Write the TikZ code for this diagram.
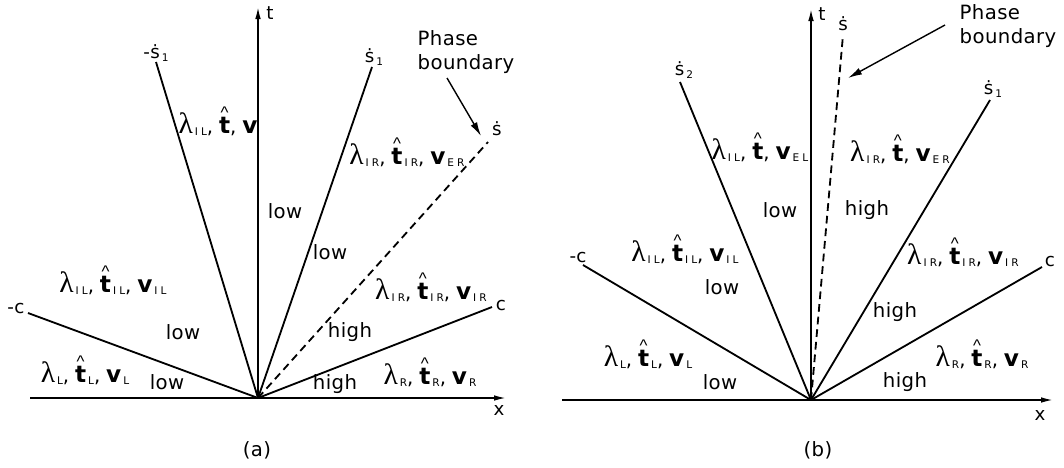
\documentclass[tikz,border=0pt]{standalone}
\usepackage{fontspec}
\setmainfont[LetterSpace=2]{DejaVu Sans}
\newfontfamily\lamfont{Liberation Serif}
\newfontfamily\hatfont{Liberation Sans}
\newfontfamily\subfont[LetterSpace=30]{DejaVu Sans}
\usetikzlibrary{arrows.meta}

\newcommand{\lam}{{\lamfont\fontsize{21}{21}\selectfont λ}}
\newcommand{\sbs}[1]{\hspace{0.1em}\raisebox{-0.25ex}{\subfont\fontsize{7.5}{7.5}\selectfont #1}}
\newcommand{\bt}{\hbox{\ooalign{{\fontsize{16.5}{16.5}\selectfont\bfseries t}\cr
  \hidewidth\raisebox{10.5pt}{\hatfont\fontsize{12}{12}\selectfont\textasciicircum}\hidewidth\cr}}}
\newcommand{\bv}{{\fontsize{16.5}{16.5}\selectfont\bfseries v}}
\newcommand{\cm}{,\hspace{0.3em}}
\newcommand{\ep}[1]{{\fontsize{13}{13}\selectfont #1}}

\begin{document}
\begin{tikzpicture}[x=0.025cm, y=-0.025cm,
  font=\fontsize{14}{17}\selectfont,
  ray/.style={line width=1.3pt},
  axis/.style={line width=1.1pt, -{Latex[length=3mm,width=1.4mm]}},
  pb/.style={ray, dash pattern=on 5.5pt off 3.5pt},
  arr/.style={line width=1pt, -{Latex[length=3.5mm,width=1.8mm]}},
  lbl/.style={inner sep=0pt}
]
\useasboundingbox (0,0) rectangle (1064,467);

% (a)
\coordinate (oa) at (258,398);
\coordinate (xa0) at (30,398);
\coordinate (xa) at (506,398);
\coordinate (ta) at (258,7);
\coordinate (mca) at (28,313);
\coordinate (ms1a) at (156,62);
\coordinate (s1a) at (372,67);
\coordinate (sa) at (488,142);
\coordinate (ca) at (492,307);

\draw[axis] (xa0) -- (xa);
\draw[axis] (oa) -- (ta);
\foreach \e in {mca,ms1a,s1a,ca}
  \draw[ray] (oa) -- (\e);
\draw[pb] (oa) -- (sa);

\node[lbl] (ta-l) at (270,13) {\ep{t}};
\node[lbl] (xa-l) at (499,410) {\ep{x}};
\node[lbl] (mca-l) at (16,309) {\ep{-c}};
\node[lbl] (ca-l) at (501,306) {\ep{c}};
\node[lbl] (ms1a-l) at (156,53) {\ep{-ṡ}\sbs{1}};
\node[lbl] (s1a-l) at (374,57) {\ep{ṡ}\sbs{1}};
\node[lbl] (sa-l) at (497,129) {\ep{ṡ}};

\node[lbl, align=left] (pba) at (466,52) {Phase\\boundary};
\coordinate (pba-from) at (447,78);
\coordinate (pba-to) at (481,136);
\draw[arr] (pba-from) -- (pba-to);

\node[lbl] (a1) at (218,124) {\lam\sbs{IL}\cm\bt\cm\bv};
\node[lbl] (a2) at (407,155) {\lam\sbs{IR}\cm\bt\sbs{IR}\cm\bv\sbs{ER}};
\node[lbl] (a3) at (113,283) {\lam\sbs{IL}\cm\bt\sbs{IL}\cm\bv\sbs{IL}};
\node[lbl] (a4) at (431,290) {\lam\sbs{IR}\cm\bt\sbs{IR}\cm\bv\sbs{IR}};
\node[lbl] (a5) at (85,373) {\lam\sbs{L}\cm\bt\sbs{L}\cm\bv\sbs{L}};
\node[lbl] (a6) at (430,375) {\lam\sbs{R}\cm\bt\sbs{R}\cm\bv\sbs{R}};
\node[lbl] (a7) at (285,211) {low};
\node[lbl] (a8) at (330,252) {low};
\node[lbl] (a9) at (183,332) {low};
\node[lbl] (a10) at (167,382) {low};
\node[lbl] (a11) at (350,332) {high};
\node[lbl] (a12) at (335,384) {high};
\node[lbl] (cap-a) at (257,450) {(a)};

% (b)
\coordinate (ob) at (811,400);
\coordinate (xb0) at (562,400);
\coordinate (xb) at (1053,400);
\coordinate (tb) at (811,9);
\coordinate (mcb) at (583,265);
\coordinate (s2b) at (680,82);
\coordinate (sb) at (843,35);
\coordinate (s1b) at (990,100);
\coordinate (cb) at (1042,267);

\draw[axis] (xb0) -- (xb);
\draw[axis] (ob) -- (tb);
\foreach \e in {mcb,s2b,s1b,cb}
  \draw[ray] (ob) -- (\e);
\draw[pb] (ob) -- (sb);

\node[lbl] (tb-l) at (822,14) {\ep{t}};
\node[lbl] (xb-l) at (1040,415) {\ep{x}};
\node[lbl] (mcb-l) at (578,258) {\ep{-c}};
\node[lbl] (cb-l) at (1050,262) {\ep{c}};
\node[lbl] (s2b-l) at (684,70) {\ep{ṡ}\sbs{2}};
\node[lbl] (sb-l) at (843,24) {\ep{ṡ}};
\node[lbl] (s1b-l) at (993,89) {\ep{ṡ}\sbs{1}};

\node[lbl, align=left] (pbb) at (1008,26) {Phase\\boundary};
\coordinate (pbb-from) at (945,25);
\coordinate (pbb-to) at (848,78);
\draw[arr] (pbb-from) -- (pbb-to);

\node[lbl] (b1) at (760,150) {\lam\sbs{IL}\cm\bt\cm\bv\sbs{EL}};
\node[lbl] (b2) at (900,152) {\lam\sbs{IR}\cm\bt\cm\bv\sbs{ER}};
\node[lbl] (b3) at (685,252) {\lam\sbs{IL}\cm\bt\sbs{IL}\cm\bv\sbs{IL}};
\node[lbl] (b4) at (963,255) {\lam\sbs{IR}\cm\bt\sbs{IR}\cm\bv\sbs{IR}};
\node[lbl] (b5) at (648,357) {\lam\sbs{L}\cm\bt\sbs{L}\cm\bv\sbs{L}};
\node[lbl] (b6) at (982,357) {\lam\sbs{R}\cm\bt\sbs{R}\cm\bv\sbs{R}};
\node[lbl] (b7) at (780,210) {low};
\node[lbl] (b8) at (867,210) {high};
\node[lbl] (b9) at (722,287) {low};
\node[lbl] (b10) at (895,312) {high};
\node[lbl] (b11) at (720,382) {low};
\node[lbl] (b12) at (905,382) {high};
\node[lbl] (cap-b) at (818,450) {(b)};
\end{tikzpicture}
\end{document}
